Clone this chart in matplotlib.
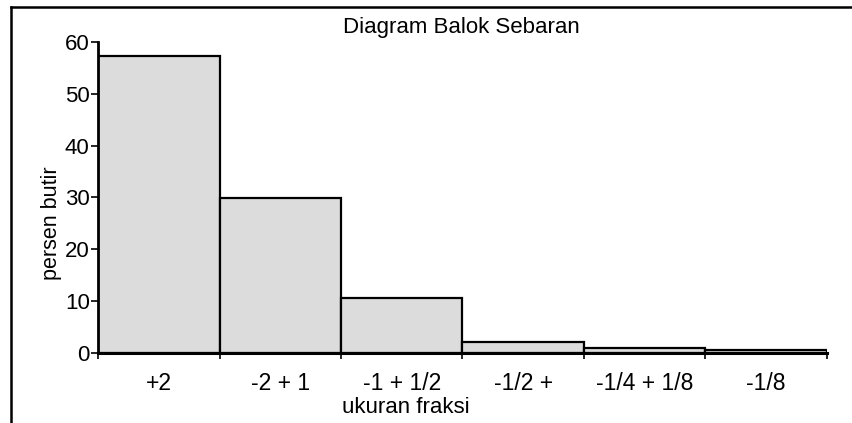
import matplotlib.pyplot as plt
from matplotlib.lines import Line2D
import numpy as np

plt.rcParams['font.family'] = ['Liberation Sans', 'DejaVu Sans']

fraksi = ['+2', '-2 + 1', '-1 + 1/2', '-1/2 +', '-1/4 + 1/8', '-1/8']
persen = [57.3, 29.9, 10.6, 2.1, 0.9, 0.6]
yticks = [0, 10, 20, 30, 40, 50, 60]

fig = plt.figure(figsize=(8.53, 4.23), dpi=100)
ax = fig.add_axes([0.1149, 0.1655, 0.8546, 0.7352])

pos = np.arange(len(fraksi))
ax.bar(pos, persen, width=1.0, color='#dcdcdc', edgecolor='black', linewidth=1.6)

ax.set_xlim(-0.5, len(fraksi) - 0.5)
ax.set_ylim(0, 60)
ax.set_yticks(yticks)
ax.set_xticks(pos)
ax.set_xticklabels(fraksi, fontsize=16.5)
ax.set_xticks(np.arange(len(fraksi) + 1) - 0.5, minor=True)
ax.tick_params(axis='x', which='major', length=0, pad=14)
ax.tick_params(axis='x', which='minor', length=4, width=1.2)
ax.tick_params(axis='y', labelsize=16, length=5, width=1.2, pad=1)

for s in ['top', 'right']:
    ax.spines[s].set_visible(False)
ax.spines['left'].set_linewidth(2)
ax.spines['bottom'].set_linewidth(2.2)

ax.set_xlabel('ukuran fraksi', fontsize=16)
ax.xaxis.set_label_coords(0.422, -0.14)
ax.set_ylabel('persen butir', fontsize=15.5)
ax.yaxis.set_label_coords(-0.049, 0.418)

fig.text(0.541, 0.934, 'Diagram Balok Sebaran', fontsize=16, ha='center', va='center')

# frame lines (left and top)
fig.add_artist(Line2D([11 / 853, 11 / 853], [0, 1 - 7 / 423], color='black', lw=1.8))
fig.add_artist(Line2D([11 / 853, 1], [1 - 7 / 423, 1 - 7 / 423], color='black', lw=1.8))

plt.savefig('out.png', dpi=100)
